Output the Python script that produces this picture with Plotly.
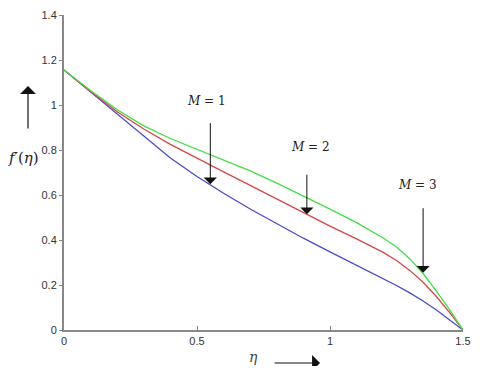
import plotly.graph_objects as go

eta = [0, 0.1, 0.2, 0.3, 0.4, 0.5, 0.6, 0.7, 0.8, 0.9, 1.0, 1.1, 1.2, 1.25, 1.3, 1.35, 1.4, 1.45, 1.5]
f_m1 = [1.156, 1.058, 0.958, 0.858, 0.764, 0.682, 0.608, 0.538, 0.472, 0.408, 0.347, 0.288, 0.229, 0.198, 0.165, 0.129, 0.089, 0.046, 0.0]
f_m2 = [1.156, 1.06, 0.97, 0.893, 0.825, 0.763, 0.703, 0.643, 0.582, 0.522, 0.462, 0.405, 0.345, 0.309, 0.265, 0.212, 0.149, 0.077, 0.0]
f_m3 = [1.156, 1.064, 0.979, 0.907, 0.851, 0.803, 0.756, 0.707, 0.653, 0.596, 0.537, 0.477, 0.409, 0.369, 0.317, 0.251, 0.173, 0.089, 0.0]

series = [("M = 1", f_m1, "#4a4ac8"), ("M = 2", f_m2, "#d04848"), ("M = 3", f_m3, "#44dd44")]

# annotation positions: label (x, y), arrow x, arrow tail y, arrow tip y
labels = ["<i>M</i> = 1", "<i>M</i> = 2", "<i>M</i> = 3"]
label_x = [0.537, 0.925, 1.33]
label_y = [1.02, 0.815, 0.645]
arrow_x = [0.55, 0.913, 1.35]
arrow_tail = [0.926, 0.697, 0.548]
arrow_tip = [0.648, 0.515, 0.255]

fig = go.Figure()
for name, ys, col in series:
    fig.add_trace(go.Scatter(x=eta, y=ys, mode="lines", name=name,
                             line=dict(color=col, width=1.3, shape="linear")))

for t, lx, ly, axp, tl, tp in zip(labels, label_x, label_y, arrow_x, arrow_tail, arrow_tip):
    fig.add_annotation(x=lx, y=ly, text=t, showarrow=False, xanchor="center", yanchor="middle",
                       font=dict(family="DejaVu Serif", size=12, color="#222"))
    fig.add_annotation(x=axp, y=tp, ax=axp, ay=tl, xref="x", yref="y", axref="x", ayref="y",
                       text="", showarrow=True, arrowhead=1, arrowsize=2.2, arrowwidth=1,
                       arrowcolor="#111")

# axis titles with arrows
fig.add_annotation(x=-0.1003, y=0.546, xref="paper", yref="paper", text="<i>f′</i>(<i>η</i>)",
                   showarrow=False, xanchor="center", yanchor="middle",
                   font=dict(family="DejaVu Serif", size=15, color="#222"))
fig.add_annotation(x=-0.0902, y=0.7746, xref="paper", yref="paper", ax=0, ay=44,
                   text="", showarrow=True, arrowhead=1, arrowsize=2.2, arrowwidth=1.2, arrowcolor="#111")
fig.add_annotation(x=0.4737, y=-0.085, xref="paper", yref="paper", text="<i>η</i>",
                   showarrow=False, xanchor="center", yanchor="middle",
                   font=dict(family="DejaVu Serif", size=14, color="#444"))
fig.add_annotation(x=0.6416, y=-0.1048, xref="paper", yref="paper", ax=-47, ay=0,
                   text="", showarrow=True, arrowhead=1, arrowsize=2.2, arrowwidth=1.2, arrowcolor="#111")

fig.update_layout(
    width=464, height=358,
    margin=dict(l=56, r=9, t=7, b=36),
    paper_bgcolor="white", plot_bgcolor="white",
    showlegend=False,
    font=dict(family="Liberation Sans, Arial", size=11, color="#333"),
)
fig.update_xaxes(range=[0, 1.5], tickvals=[0, 0.5, 1, 1.5], ticktext=["0", "0.5", "1", "1.5"],
                 showgrid=False, zeroline=False, showline=True, linecolor="#888", linewidth=2,
                 ticks="inside", ticklen=4, tickcolor="#888", mirror=False, automargin=False)
fig.update_yaxes(range=[0, 1.4], tickvals=[0, 0.2, 0.4, 0.6, 0.8, 1.0, 1.2, 1.4],
                 ticktext=["0", "0.2", "0.4", "0.6", "0.8", "1", "1.2", "1.4"],
                 showgrid=False, zeroline=False, showline=True, linecolor="#888", linewidth=2,
                 ticks="outside", ticklen=3, tickcolor="#888", mirror=False, automargin=False)

fig.write_html("out.html")
